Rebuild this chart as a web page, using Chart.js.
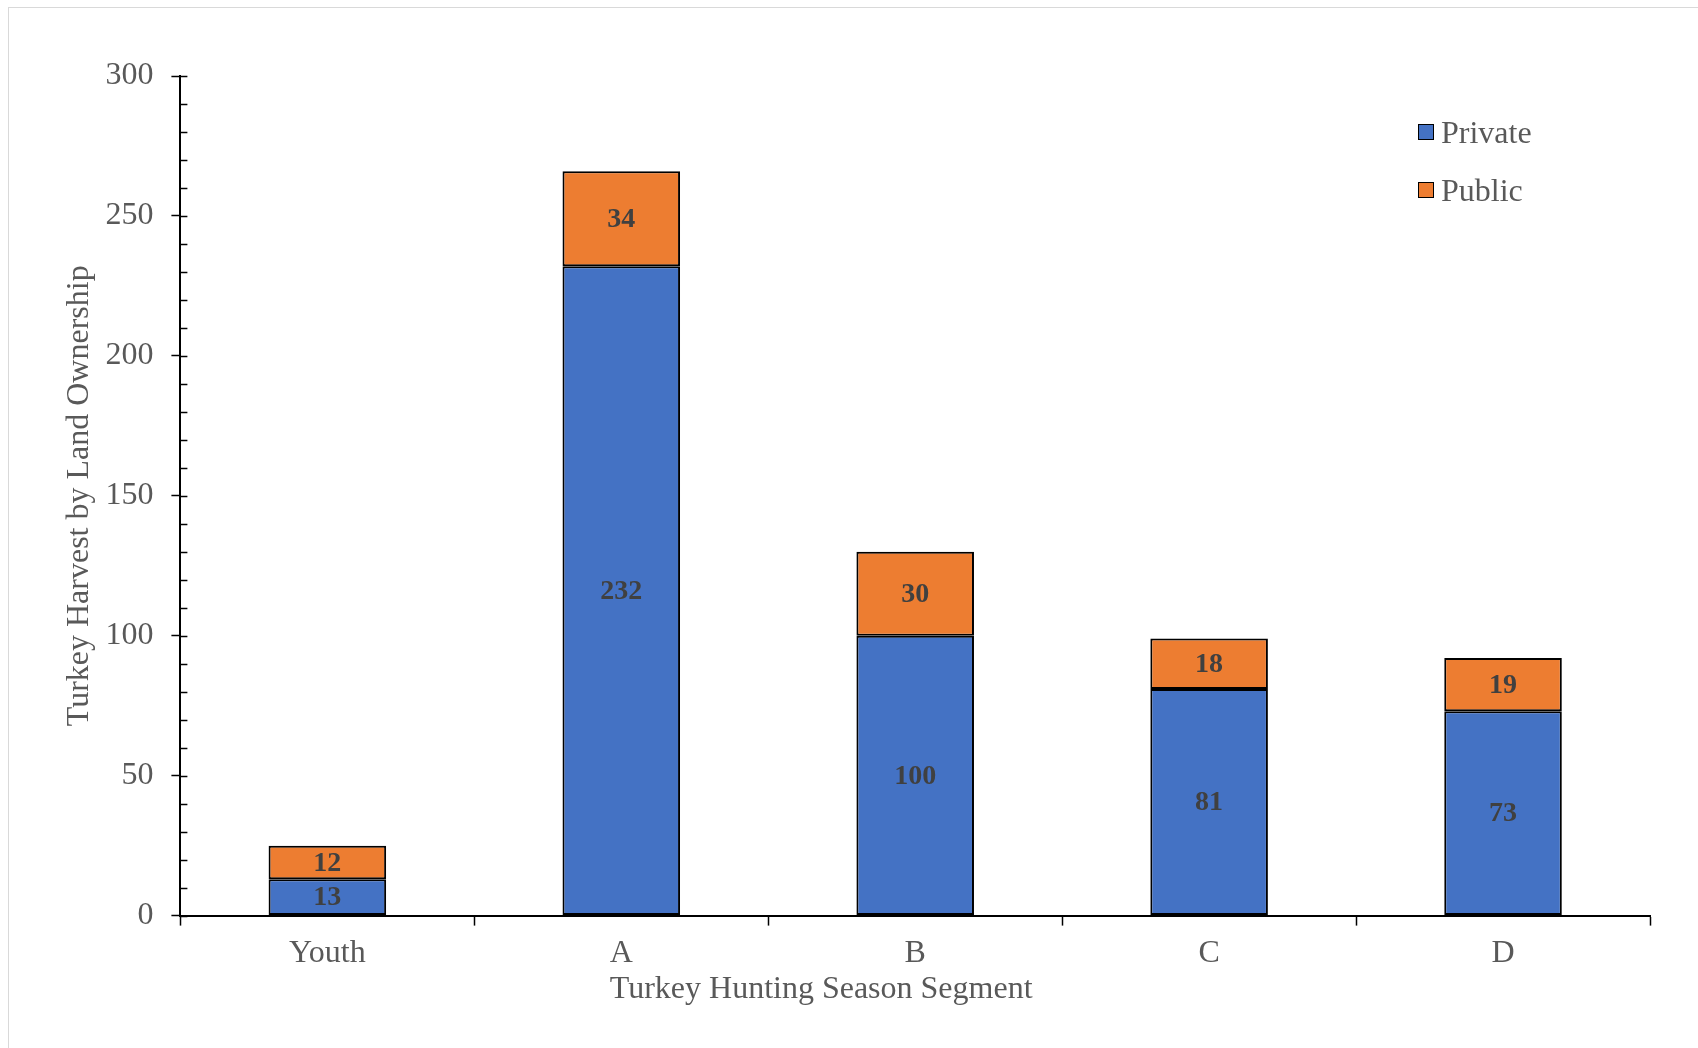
<!DOCTYPE html>
<html>
<head>
<meta charset="utf-8">
<script src="https://cdn.jsdelivr.net/npm/chart.js@4.4.0/dist/chart.umd.min.js"></script>
<style>
    html, body { margin: 0; padding: 0; background: #fff; overflow: hidden; }
    #wrap { position: relative; width: 1698px; height: 1048px; }
    #frame { position: absolute; left: 8px; top: 7px; width: 1700px; height: 1050px; border: 1px solid #d9d9d9; }
    #harvestChart { position: absolute; left: 0; top: 0; }
    #legend { position: absolute; left: 1418px; top: 103px; font-family: 'Liberation Serif', 'Times New Roman', serif; font-size: 32px; color: #595959; }
    .item { display: flex; align-items: center; height: 58px; }
    .box { width: 14px; height: 14px; border: 1.5px solid #000; margin-right: 7px; }
</style>
</head>
<body>
<div id="wrap">
    <div id="frame"></div>
    <canvas id="harvestChart" width="1698" height="1048"></canvas>
    <div id="legend"></div>
</div>
<script>
const segments = ['Youth', 'A', 'B', 'C', 'D'];
const privateHarvest = [13, 232, 100, 81, 73];
const publicHarvest = [12, 34, 30, 18, 19];

const textGray = '#595959';
const serif = "'Liberation Serif', 'Times New Roman', serif";

// inward tick marks on the y axis (Excel style minor ticks)
const innerTicks = {
    id: 'innerTicks',
    afterDraw(chart) {
        const y = chart.scales.y;
        const ctx = chart.ctx;
        ctx.save();
        ctx.strokeStyle = '#000';
        ctx.lineWidth = 1.5;
        for (let v = y.min; v <= y.max; v += 10) {
            const py = Math.round(y.getPixelForValue(v)) + 0.5;
            ctx.beginPath();
            ctx.moveTo(y.right, py);
            ctx.lineTo(y.right + 7, py);
            ctx.stroke();
        }
        ctx.restore();
    }
};

// value labels centred in each bar segment
const barValues = {
    id: 'barValues',
    afterDatasetsDraw(chart) {
        const ctx = chart.ctx;
        ctx.save();
        ctx.font = 'bold 28px ' + serif;
        ctx.fillStyle = '#404040';
        ctx.textAlign = 'center';
        ctx.textBaseline = 'middle';
        chart.data.datasets.forEach((ds, i) => {
            chart.getDatasetMeta(i).data.forEach((bar, j) => {
                ctx.fillText(String(ds.data[j]), bar.x, (bar.y + bar.base) / 2 + 1);
            });
        });
        ctx.restore();
    }
};

// x axis title sits left of centre in the original
const xTitle = {
    id: 'xTitle',
    afterDraw(chart) {
        const a = chart.chartArea;
        const ctx = chart.ctx;
        ctx.save();
        ctx.font = '32px ' + serif;
        ctx.fillStyle = textGray;
        ctx.textAlign = 'center';
        ctx.textBaseline = 'middle';
        ctx.fillText('Turkey Hunting Season Segment', a.left + (a.right - a.left) * 0.436, 990);
        ctx.restore();
    }
};

const ctx = document.getElementById('harvestChart').getContext('2d');

// eslint-disable-next-line no-undef
const chart = new Chart(ctx, {
    type: 'bar',
    data: {
        labels: segments,
        datasets: [
            {
                label: 'Private',
                data: privateHarvest,
                backgroundColor: '#4472C4',
                borderColor: '#000',
                borderWidth: 2,
                borderSkipped: false
            },
            {
                label: 'Public',
                data: publicHarvest,
                backgroundColor: '#ED7D31',
                borderColor: '#000',
                borderWidth: 2,
                borderSkipped: false
            }
        ]
    },
    options: {
        responsive: false,
        animation: false,
        categoryPercentage: 1,
        barPercentage: 0.4,
        layout: {
            padding: { left: 41, right: 48, top: 76, bottom: 66 }
        },
        scales: {
            x: {
                stacked: true,
                offset: true,
                border: { display: true, color: '#000', width: 2 },
                grid: {
                    offset: true,
                    drawOnChartArea: false,
                    drawTicks: true,
                    tickLength: 10,
                    tickColor: '#000',
                    tickWidth: 1.5
                },
                ticks: {
                    color: textGray,
                    padding: 9,
                    font: { family: serif, size: 32 }
                }
            },
            y: {
                stacked: true,
                min: 0,
                max: 300,
                border: { display: true, color: '#000', width: 2 },
                grid: {
                    drawOnChartArea: false,
                    drawTicks: true,
                    tickLength: 9,
                    tickWidth: 1.5,
                    tickColor: c => (c.tick && c.tick.value % 50 === 0 ? '#000' : 'rgba(0,0,0,0)')
                },
                ticks: {
                    stepSize: 10,
                    autoSkip: false,
                    color: textGray,
                    padding: 18,
                    font: { family: serif, size: 32 },
                    callback: v => (v % 50 === 0 ? v : '')
                },
                title: {
                    display: true,
                    text: 'Turkey Harvest by Land Ownership',
                    color: textGray,
                    font: { family: serif, size: 32 },
                    padding: { top: 19, bottom: -11 }
                }
            }
        },
        plugins: {
            legend: { display: false },
            tooltip: { enabled: false }
        }
    },
    plugins: [innerTicks, barValues, xTitle]
});

// legend drawn as html, top right
const legend = document.getElementById('legend');
chart.data.datasets.forEach(ds => {
    const item = document.createElement('div');
    item.className = 'item';
    const box = document.createElement('div');
    box.className = 'box';
    box.style.background = ds.backgroundColor;
    const label = document.createElement('span');
    label.textContent = ds.label;
    item.appendChild(box);
    item.appendChild(label);
    legend.appendChild(item);
});
</script>
</body>
</html>
